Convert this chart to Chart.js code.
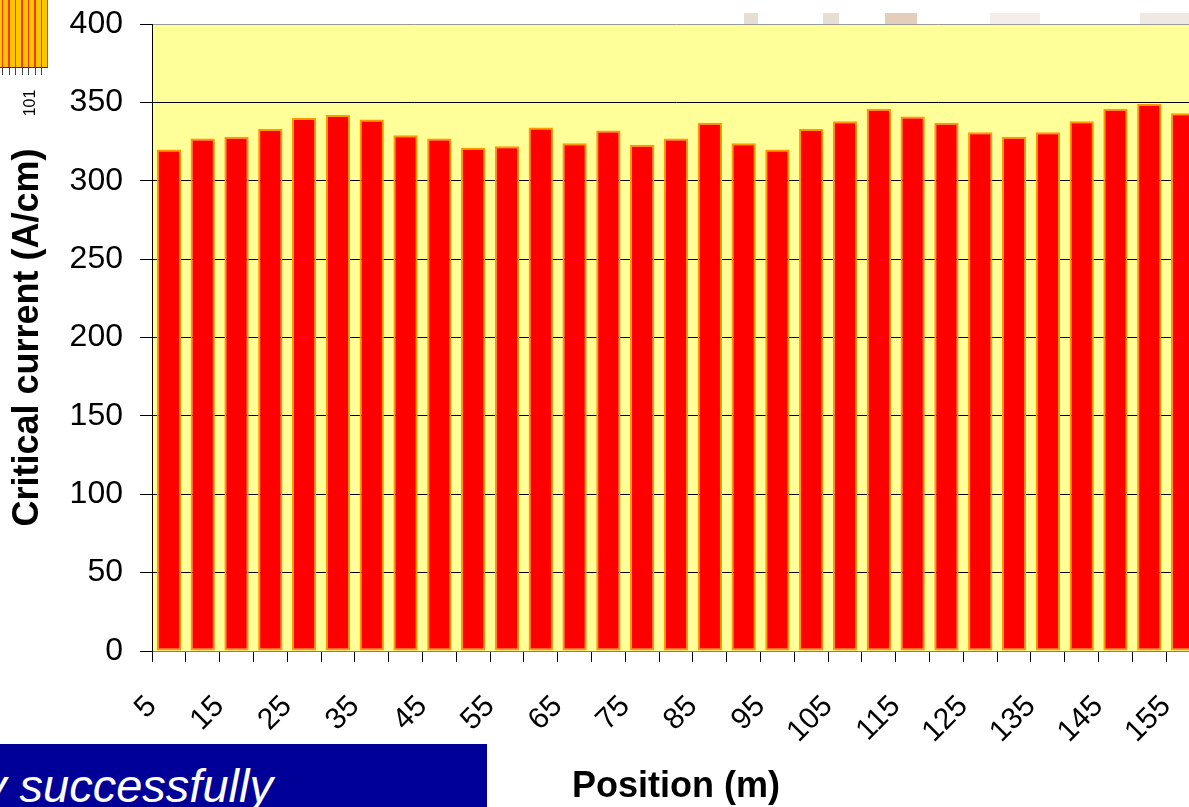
<!DOCTYPE html>
<html>
<head>
<meta charset="utf-8">
<script src="https://cdn.jsdelivr.net/npm/chart.js@4.4.1/dist/chart.umd.min.js"></script>
<style>
  html, body { margin: 0; padding: 0; background: #fff; width: 1189px; height: 807px; overflow: hidden; position: relative; font-family: "Liberation Sans", Arial, sans-serif; }
  #chart { position: absolute; left: 0; top: 0; }
  .stripes { position: absolute; left: 0; top: 0; width: 48px; height: 67px;
    background: repeating-linear-gradient(90deg, #FFC400 0px, #FFC400 2px, #F23A00 2px, #F23A00 3.5px, #FFC400 3.5px, #FFC400 6.5px);
    border-bottom: 1px solid #333; }
  .stripe-ticks { position: absolute; left: 0; top: 68px; width: 48px; height: 7px;
    background: repeating-linear-gradient(90deg, transparent 0px, transparent 2.5px, #444 2.5px, #444 3.5px, transparent 3.5px, transparent 6.5px); }
  .num101 { position: absolute; left: 17px; top: 94px; font-size: 16px; color: #000; transform: rotate(-90deg); transform-origin: center; }
  .bluebox { position: absolute; left: 0; top: 744px; width: 487px; height: 63px; background: #000099; overflow: hidden; }
  .bluebox span { position: absolute; left: -17px; top: 14px; color: #fff; font-style: italic; font-size: 47px; white-space: nowrap; }
  .bgbit { position: absolute; top: 13px; height: 11px; background: #DCCFC2; opacity: 0.7; }
</style>
</head>
<body>
<div class="bgbit" style="left:744px;width:14px"></div>
<div class="bgbit" style="left:823px;width:16px"></div>
<div class="bgbit" style="left:885px;width:32px;background:#D9B89E"></div>
<div class="bgbit" style="left:990px;width:50px;opacity:0.35"></div>
<div class="bgbit" style="left:1140px;width:49px;opacity:0.45"></div>
<canvas id="chart" width="1210" height="807"></canvas>
<div class="stripes"></div>
<div class="stripe-ticks"></div>
<div class="num101">101</div>
<div class="bluebox"><span>y successfully</span></div>
<script>
const positions = [5, 10, 15, 20, 25, 30, 35, 40, 45, 50, 55, 60, 65, 70, 75, 80, 85, 90, 95, 100, 105, 110, 115, 120, 125, 130, 135, 140, 145, 150, 155]
const critCurrent = [320, 327, 328, 333, 340, 342, 339, 329, 327, 321, 322, 334, 324, 332, 323, 327, 337, 324, 320, 333, 338, 346, 341, 337, 331, 328, 331, 338, 346, 349, 343]
const xTickLabels = ['5', '15', '25', '35', '45', '55', '65', '75', '85', '95', '105', '115', '125', '135', '145', '155']
const yTicks = [0, 50, 100, 150, 200, 250, 300, 350, 400]

const fontFamily = '"Liberation Sans", Arial, sans-serif'

const canvas = document.getElementById('chart')
const context = canvas.getContext('2d')

// yellow plot area behind everything
const plotBg = {
    id: 'plotBg',
    beforeDraw(chart) {
        const { ctx, chartArea: a } = chart
        ctx.save()
        ctx.fillStyle = '#FFFF99'
        ctx.fillRect(a.left, a.top, a.right - a.left, a.bottom - a.top)
        ctx.restore()
    }
}

const chartIc = new Chart(context, {
    type: 'bar',
    data: {
        labels: positions,
        datasets: [
            {
                label: 'Critical current',
                data: critCurrent,
                backgroundColor: '#FF0000',
                borderColor: '#FF9900',
                borderWidth: 2,
                borderSkipped: false,
                barPercentage: 0.72,
                categoryPercentage: 1.0
            }
        ]
    },
    options: {
        responsive: false,
        animation: false,
        devicePixelRatio: 1,
        layout: { padding: { top: 24, right: 10, left: 0, bottom: 0 } },
        plugins: {
            legend: { display: false },
            tooltip: { enabled: false }
        },
        scales: {
            x: {
                grid: { offset: true, drawOnChartArea: false, tickLength: 11, tickColor: '#000' },
                border: { color: '#808080' },
                ticks: {
                    autoSkip: false,
                    minRotation: 45,
                    maxRotation: 45,
                    color: '#000',
                    padding: 27,
                    labelOffset: -17,
                    font: { family: fontFamily, size: 30 },
                    callback: (v, i) => i % 2 === 0 ? xTickLabels[i / 2] : ''
                },
                title: {
                    display: true,
                    text: 'Position (m)',
                    color: '#000',
                    font: { family: fontFamily, size: 36, weight: 'bold' },
                    padding: { top: 0, bottom: -2 }
                },
                afterFit(scale) {
                    scale.height = 156
                    scale.paddingLeft = 0
                    scale.paddingRight = 0
                }
            },
            y: {
                min: 0,
                max: 400,
                afterBuildTicks(scale) { scale.ticks = yTicks.map(v => ({ value: v })) },
                grid: {
                    color: c => c.tick && c.tick.value === 400 ? '#999999' : '#000000',
                    tickLength: 12,
                    tickColor: '#000'
                },
                border: { color: '#000' },
                ticks: {
                    color: '#000',
                    padding: 17,
                    font: { family: fontFamily, size: 32 }
                },
                title: {
                    display: true,
                    text: 'Critical current (A/cm)',
                    color: '#000',
                    font: { family: fontFamily, size: 36, weight: 'bold' },
                    padding: { top: 6, bottom: 0 }
                },
                afterFit(scale) {
                    scale.width = 152
                    scale.paddingTop = 0
                    scale.paddingBottom = 0
                }
            }
        }
    },
    plugins: [plotBg]
})
</script>
</body>
</html>
